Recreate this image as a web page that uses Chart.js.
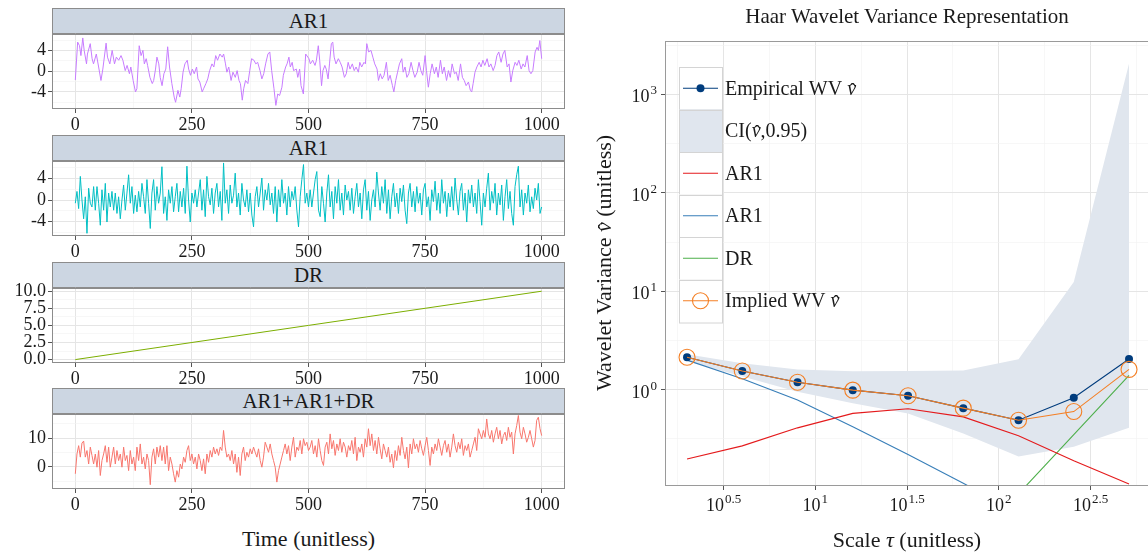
<!DOCTYPE html>
<html><head><meta charset="utf-8">
<script src="https://cdn.jsdelivr.net/npm/chart.js@4.4.1/dist/chart.umd.min.js"></script>
<style>
html,body{margin:0;padding:0;background:#fff;width:1148px;height:552px;overflow:hidden;position:relative;font-family:"Liberation Serif",serif;color:#1a1a1a;}
.strip{position:absolute;left:52px;width:513px;height:26px;box-sizing:border-box;background:#ccd6e2;border:1px solid #8c8c8c;text-align:center;font-size:21px;line-height:24px;}
.cv{position:absolute;}
.txt{position:absolute;white-space:nowrap;text-align:center;}
.nu{position:relative;font-style:italic;display:inline-block;}
.hat{position:absolute;left:1px;right:0;top:0.16em;text-align:center;font-style:normal;line-height:1;}
</style></head><body>

<div class="strip" style="top:8px">AR1</div>
<div class="strip" style="top:135px">AR1</div>
<div class="strip" style="top:262px">DR</div>
<div class="strip" style="top:388px">AR1+AR1+DR</div>

<canvas class="cv" id="p1" width="585" height="118" style="left:0;top:21px"></canvas>
<canvas class="cv" id="p2" width="585" height="118" style="left:0;top:148px"></canvas>
<canvas class="cv" id="p3" width="585" height="118" style="left:0;top:275px"></canvas>
<canvas class="cv" id="p4" width="585" height="118" style="left:0;top:401px"></canvas>
<div class="txt" style="left:52px;width:513px;top:526px;font-size:22px;">Time (unitless)</div>

<canvas class="cv" id="wv" width="580" height="552" style="left:590px;top:0"></canvas>
<div class="txt" style="left:667px;width:480px;top:4px;font-size:21px;">Haar Wavelet Variance Representation</div>
<div class="txt" style="left:667px;width:480px;top:527px;font-size:22px;">Scale <i>τ</i> (unitless)</div>
<div class="txt" style="left:444px;width:320px;top:250px;height:26px;line-height:26px;font-size:22px;transform:rotate(-90deg);transform-origin:160px 13px;">Wavelet Variance <span class="nu">ν<span class="hat">ˆ</span></span> (unitless)</div>

<script>
// ---------------- DATA ----------------
const timeMajorTicks = [0, 250, 500, 750, 1000];
const timeMinorTicks = [125, 375, 625, 875];
const timeRange = [-50, 1050];

// AR1 (purple) read at irregular times
const ar1aTime = [0,5,9,12,16,19,24,26,32,36,39,45,50,55,59,66,69,74,79,84,88,93,98,102,107,111,116,119,124,129,132,137,141,145,148,152,155,160,165,168,172,175,179,182,186,190,194,198,202,207,212,215,220,224,227,231,235,240,243,247,251,255,260,263,267,272,275,280,284,288,293,297,301,305,310,315,318,322,325,329,334,338,343,347,351,354,358,361,365,370,374,378,383,387,391,396,400,404,408,413,417,421,426,430,434,438,443,446,451,454,458,461,465,468,474,477,481,484,489,
494,501,504,509,514,517,521,524,528,531,535,538,542,545,549,552,555,559,564,568,572,577,581,585,589,594,598,602,607,610,614,619,622,625,629,634,638,642,647,650,654,658,662,667,671,675,680,683,687,691,695,700,703,707,711,715,720,724,728,733,737,741,745,750,753,757,761,765,770,774,778,783,787,791,796,800,804,808,813,817,821,826,830,834,838,843,847,850,853,857,861,866,870,874,878,883,887,891,896,900,904,908,913,917,921,926,930,934,938,943,947,951,956,960,964,969,973,977,981,986,990,993,996,1000];
const ar1aValue = [-1.7,5.6,4.9,3.0,6.4,4.0,1.4,3.3,5.3,2.4,1.4,3.3,0.8,-1.8,0.4,5.4,2.7,1.4,4.0,1.4,2.7,2.1,3.0,2.1,0.1,1.1,-0.5,0.8,-1.8,-4.0,-3.4,4.9,3.0,4.0,1.4,2.4,1.1,-1.2,-2.4,-1.8,0.4,2.7,1.4,-1.2,-2.8,-0.5,0.4,4.7,0.8,-2.4,-5.0,-6.0,-3.7,-5.0,-3.4,-0.2,1.4,2.1,0.4,-0.8,0.4,-0.5,0.8,-1.5,-2.1,-4.0,-3.4,-2.4,-1.5,0.1,1.4,0.8,3.0,2.1,3.3,2.7,3.3,1.4,-0.2,0.8,-1.8,-0.2,-1.2,0.1,-1.8,-2.4,-5.6,-3.4,-1.8,-2.4,0.1,2.4,2.1,1.4,1.7,0.1,-1.5,-0.5,1.4,3.3,3.7,0.1,-3.4,-6.6,-4.4,-4.7,-3.1,-0.8,0.8,1.4,2.7,0.8,1.7,0.1,0.4,-1.2,0.4,-2.8,-4.4,
3.3,2.4,1.4,2.1,1.1,2.1,4.9,2.1,-2.8,0.1,1.1,0.4,-1.5,1.4,5.3,5.6,2.7,1.4,2.4,1.7,0.8,-1.2,-0.5,1.7,0.4,1.4,0.1,0.8,-0.2,1.7,0.8,1.7,1.4,5.3,3.7,4.0,2.7,1.4,0.4,-1.8,-0.5,-1.5,-0.8,1.7,-1.8,-0.8,-2.8,-4.0,-1.8,-0.2,1.4,2.4,-0.2,0.8,-1.2,-0.5,1.7,0.1,-1.2,-0.2,1.7,0.1,-0.8,3.0,0.1,-3.1,-0.5,1.4,-0.5,0.8,-1.2,2.1,-0.5,0.8,-1.8,0.1,-1.2,1.4,-0.5,-0.2,-1.8,1.4,-1.2,-1.8,-2.8,-2.1,-3.7,-4.0,-2.4,-0.2,0.8,1.7,0.8,2.1,1.1,2.4,0.8,1.4,0.1,1.1,3.0,3.7,1.7,3.3,4.0,0.8,1.4,-2.1,0.1,1.7,1.1,2.1,0.4,1.4,0.8,3.0,0.1,-0.5,0.1,3.7,4.6,4.0,5.9,2.4];

// AR1 (cyan) read at evenly spaced times from 0 to 1000
const ar1bValue = [-0.6,1.6,-1.6,4.4,0.0,-3.5,0.6,-6.2,2.2,-0.6,-1.3,2.5,-1.9,2.5,-0.6,-4.7,1.9,-1.9,3.1,-4.1,1.3,-1.3,1.6,-1.9,1.3,-2.5,0.6,-3.5,0.0,2.8,-1.9,1.3,4.7,-0.6,2.5,-2.5,0.9,-2.2,1.6,-1.3,3.1,0.6,-2.5,3.8,-0.6,-5.3,1.3,3.8,-1.9,2.5,-0.6,1.3,6.2,-2.5,0.6,-3.8,1.9,-0.6,2.5,-2.2,0.6,3.1,-2.2,1.6,-1.3,2.2,-2.5,6.3,0.0,-4.1,1.3,-0.6,1.9,-1.3,1.3,3.8,-1.9,1.9,-3.1,4.4,0.6,-0.9,2.2,-2.5,1.3,3.1,-1.3,1.6,-3.8,6.9,-0.6,1.9,-2.5,2.8,-0.6,0.9,5.0,-1.3,1.3,-2.8,3.1,0.0,-1.3,1.9,-2.2,1.3,-2.8,-5.0,0.6,2.5,-1.3,1.3,4.1,-1.9,1.9,0.0,3.1,-0.9,1.3,-2.5,2.5,-4.1,1.9,-1.3,3.8,-0.6,1.3,-2.8,2.5,-1.3,1.6,0.0,2.5,-1.9,-5.0,0.6,3.8,6.6,-0.6,1.3,-1.3,
1.9,-1.3,1.3,3.8,5.3,-1.9,-3.1,2.5,-0.6,-4.1,1.3,4.7,-1.3,1.6,-3.5,2.5,-0.6,3.8,-1.9,1.3,-2.8,2.8,0.0,1.6,-1.9,2.2,-2.5,0.6,3.1,-1.3,1.3,-3.5,1.9,3.8,-1.9,1.6,-3.8,0.0,1.9,-1.3,5.2,1.3,-1.9,2.5,-0.6,3.8,-2.5,1.9,-3.5,0.6,3.1,-1.3,1.3,-2.5,2.2,-0.3,2.8,-1.9,-4.4,1.3,3.1,-1.3,1.6,-2.2,2.5,-0.6,1.3,-2.8,1.9,3.1,-1.3,0.6,-3.8,1.9,-0.3,3.5,-1.9,1.3,-2.5,3.8,-0.6,1.6,-3.1,1.3,-1.3,2.5,-1.9,4.1,0.0,-2.8,1.6,3.1,-1.9,1.3,-4.1,1.9,-0.6,2.8,-1.3,1.3,-2.5,3.8,-0.3,-4.7,1.3,-1.3,2.2,5.0,-1.9,1.6,-0.6,3.1,-2.8,1.3,-0.9,2.8,-3.8,0.6,3.8,-1.6,1.6,-2.5,-4.7,2.5,4.7,6.3,-1.3,1.9,-2.8,1.3,-0.6,2.8,-2.2,0.6,-1.6,2.2,0.0,3.1,-2.5,-1.3];

// DR (straight drift)
const drTime = [0, 250, 500, 750, 1000];
const drValue = [0, 2.5, 5, 7.5, 10];

// AR1+AR1+DR (salmon) read at evenly spaced times from 0 to 1000
const sumValue = [-2.4,4.5,7.4,3.4,8.3,9.0,3.4,5.7,1.0,6.9,4.0,1.0,4.5,-0.1,5.7,-3.0,2.2,4.5,7.4,1.6,6.9,-0.1,3.4,6.9,1.0,5.7,2.2,4.5,-0.1,6.9,2.2,4.0,-1.3,5.7,1.0,3.4,-1.3,6.9,2.2,8.0,1.0,3.4,-0.7,4.5,2.2,-6.2,3.4,6.3,1.0,6.9,3.4,7.4,2.2,6.9,1.0,7.4,-1.3,3.4,1.0,-2.4,-5.3,-1.3,-3.6,1.0,-0.7,3.4,1.6,5.7,7.4,2.2,4.5,1.0,3.4,-0.7,4.5,2.2,-1.3,2.8,-2.4,4.5,1.6,5.7,3.4,6.9,4.5,6.3,4.0,6.9,5.7,12.7,6.9,3.4,4.5,2.2,5.7,1.0,4.5,-1.9,3.4,-3.0,4.5,6.9,2.2,5.1,3.4,6.3,4.5,6.9,5.1,3.4,6.3,2.2,-0.1,3.4,8.6,6.9,5.1,8.0,4.5,2.2,-0.1,-5.3,-1.3,1.0,3.4,5.7,8.0,4.5,7.4,2.2,6.9,10.3,3.4,6.9,5.7,9.2,4.5,9.8,7.4,8.6,5.7,
6.9,9.2,4.5,7.4,3.4,9.8,5.7,2.2,0.5,6.9,8.6,4.5,11.5,6.3,9.2,4.0,8.0,5.7,9.8,5.1,8.6,6.9,3.4,7.4,5.7,9.2,4.5,10.3,2.2,6.9,5.1,8.0,3.4,9.8,6.9,13.3,7.4,11.5,5.7,9.2,4.5,10.3,6.3,2.8,8.0,5.7,3.4,6.9,1.6,4.5,-0.3,5.7,2.2,7.4,4.0,10.3,5.7,2.8,6.9,-0.3,8.0,4.5,9.8,6.3,8.0,5.1,9.2,6.3,4.0,7.4,10.3,5.7,0.5,6.9,4.5,8.0,5.7,9.8,6.9,4.0,7.4,9.2,5.1,8.0,3.4,6.9,11.5,7.4,5.1,8.6,6.3,9.8,4.0,7.4,5.7,8.0,3.4,5.7,8.0,10.3,5.7,13.3,11.5,9.8,12.7,10.3,16.7,11.5,9.8,12.7,8.6,11.5,13.8,9.8,12.7,8.0,10.9,12.1,9.2,13.8,10.3,12.1,4.5,11.5,14.4,17.9,12.1,9.8,13.8,11.5,8.6,10.3,12.7,9.8,6.9,9.2,16.2,17.3,13.3,10.9];

// panel y axes
const ar1aRange = [-7.3, 7.2], ar1aMajor = [-4, 0, 4], ar1aMinor = [-6, -2, 2, 6];
const ar1bRange = [-6.7, 7.3], ar1bMajor = [-4, 0, 4], ar1bMinor = [-6, -2, 2, 6];
const drRange = [-0.5, 10.5], drMajor = [0, 2.5, 5, 7.5, 10], drMinor = [1.25, 3.75, 6.25, 8.75];
const sumRange = [-7.7, 18.5], sumMajor = [0, 10], sumMinor = [-5, 5, 15];

// wavelet variance (right)
const tau = [2, 4, 8, 16, 32, 64, 128, 256, 512];
const empiricalWV = [2.14, 1.55, 1.19, 0.99, 0.87, 0.65, 0.49, 0.83, 2.05];
const impliedWV   = [2.14, 1.55, 1.19, 0.99, 0.87, 0.65, 0.49, 0.60, 1.61];
const ciUpper = [2.29, 1.86, 1.61, 1.54, 1.55, 1.57, 2.04, 12.4, 2050];
const ciLower = [1.96, 1.36, 0.955, 0.73, 0.575, 0.36, 0.21, 0.263, 0.41];
const ar1RedWV  = [0.198, 0.269, 0.41, 0.575, 0.64, 0.53, 0.34, 0.19, 0.11];
const ar1BlueWV = [2.0, 1.29, 0.785, 0.42, 0.22, 0.112, 0.057, 0.029, 0.0145];
const drWV = [0.000021, 0.000085, 0.00034, 0.00137, 0.0055, 0.0219, 0.0875, 0.35, 1.40];
const tauRangeExp = [0.181, 2.829];
const wvRangeExp = [-0.978, 3.543];
const tauMajorExp = [0.5, 1, 1.5, 2, 2.5];
const tauMinorExp = [0.25, 0.75, 1.25, 1.75, 2.25, 2.75];
const wvMajorExp = [0, 1, 2, 3];
const wvMinorExp = [-0.5, 0.5, 1.5, 2.5, 3.5];
// legend labels: [text before ν̂, has ν̂, text after]
const legendLabels = [['Empirical WV ', true, ''], ['CI(', true, ',0.95)'], ['AR1', false, ''], ['AR1', false, ''], ['DR', false, ''], ['Implied WV ', true, '']];

// ---------------- STYLE ----------------
const FONT = '"Liberation Serif", serif';
Chart.defaults.font.family = FONT;
Chart.defaults.color = '#1a1a1a';
const C = { purple:'#C77CFF', cyan:'#00BFC4', green:'#7CAE00', salmon:'#F8766D',
  navy:'#003C7D', orange:'#F47F24', red:'#E41A1C', blue:'#377EB8', dgreen:'#4DAF4A', ci:'#E0E6EE' };

const framePlugin = { id:'frame', afterDatasetsDraw(chart, args, opts) {
  const a = chart.chartArea, c = chart.ctx; c.save();
  c.strokeStyle = opts.color || '#8c8c8c'; c.lineWidth = 1;
  c.strokeRect(Math.round(a.left)+0.5, Math.round(a.top)+0.5, Math.round(a.right-a.left)-1, Math.round(a.bottom-a.top)-1);
  c.restore(); } };

function gridOpts(isMajor) {
  return {
    color: c => (c.tick && isMajor(c.tick.value)) ? '#e5e5e5' : '#f2f2f2',
    lineWidth: c => (c.tick && isMajor(c.tick.value)) ? 1 : 0.6,
    tickColor: c => (c.tick && isMajor(c.tick.value)) ? '#555' : 'rgba(0,0,0,0)',
    tickLength: 4, drawTicks: true
  };
}

function panel(id, xs, ys, color, yr, yMajor, yMinor, fmt) {
  const yAll = yMajor.concat(yMinor).sort((a,b)=>a-b);
  const xAll = timeMajorTicks.concat(timeMinorTicks).sort((a,b)=>a-b);
  const n = Math.min(xs.length, ys.length);
  const pts = []; for (let i = 0; i < n; i++) pts.push({x: xs[i], y: ys[i]});
  new Chart(document.getElementById(id), {
    type: 'line',
    data: { datasets: [{ data: pts, borderColor: color, borderWidth: 1, pointRadius: 0, tension: 0, fill: false }] },
    options: {
      responsive: false, animation: false, events: [],
      layout: { padding: { top: 12, right: 20, left: 0, bottom: 0 } },
      plugins: { legend: {display:false}, tooltip: {enabled:false}, frame: {color:'#8c8c8c'} },
      scales: {
        x: { type:'linear', min: timeRange[0], max: timeRange[1],
          afterBuildTicks: s => { s.ticks = xAll.map(v => ({value:v})); },
          ticks: { autoSkip:false, maxRotation:0, padding:1, font:{size:18}, color:'#1a1a1a',
            callback: v => timeMajorTicks.includes(v) ? String(v) : '' },
          grid: gridOpts(v => timeMajorTicks.includes(v)), border:{display:false},
          afterFit: s => { s.height = 30; } },
        y: { type:'linear', min: yr[0], max: yr[1],
          afterBuildTicks: s => { s.ticks = yAll.map(v => ({value:v})); },
          ticks: { autoSkip:false, padding:2, font:{size:18}, color:'#1a1a1a',
            callback: v => yMajor.includes(v) ? fmt(v) : '' },
          grid: gridOpts(v => yMajor.includes(v)), border:{display:false},
          afterFit: s => { s.width = 52; } }
      }
    },
    plugins: [framePlugin]
  });
}
const evenTimes = arr => arr.map((_, i) => timeRange[0] + 50 + i * 1000 / (arr.length - 1));

panel('p1', ar1aTime, ar1aValue, C.purple, ar1aRange, ar1aMajor, ar1aMinor, v => String(v));
panel('p2', evenTimes(ar1bValue), ar1bValue, C.cyan, ar1bRange, ar1bMajor, ar1bMinor, v => String(v));
panel('p3', drTime, drValue, C.green, drRange, drMajor, drMinor, v => v.toFixed(1));
panel('p4', evenTimes(sumValue), sumValue, C.salmon, sumRange, sumMajor, sumMinor, v => String(v));

// ---------------- RIGHT: wavelet variance ----------------
const near = (v, list) => { const e = Math.log10(v); return list.some(m => Math.abs(m - e) < 1e-6); };
function drawPow(ctx, x, y, exp, align) {
  const base = '10', sup = String(exp);
  ctx.font = '18px ' + FONT; const wb = ctx.measureText(base).width;
  ctx.font = '13px ' + FONT; const ws = ctx.measureText(sup).width;
  const total = wb + 1 + ws;
  const left = align === 'center' ? x - total / 2 : x - total;
  ctx.textAlign = 'left'; ctx.textBaseline = 'alphabetic';
  ctx.font = '18px ' + FONT; ctx.fillText(base, left, y);
  ctx.font = '13px ' + FONT; ctx.fillText(sup, left + wb + 1, y - 8);
}
const powLabelPlugin = { id:'powLabels', afterDraw(chart) {
  const ctx = chart.ctx, xs = chart.scales.x, ys = chart.scales.y, a = chart.chartArea;
  ctx.save(); ctx.fillStyle = '#1a1a1a';
  tauMajorExp.forEach(e => drawPow(ctx, xs.getPixelForValue(Math.pow(10, e)), a.bottom + 25, e, 'center'));
  wvMajorExp.forEach(e => drawPow(ctx, a.left - 8, ys.getPixelForValue(Math.pow(10, e)) + 8, e, 'right'));
  ctx.restore(); } };

function drawNuHat(ctx, x, y, size) {
  ctx.font = 'italic ' + size + 'px ' + FONT;
  const w = ctx.measureText('ν').width;
  ctx.fillText('ν', x, y);
  ctx.font = size + 'px ' + FONT;
  const hw = ctx.measureText('ˆ').width;
  ctx.fillText('ˆ', x + w / 2 - hw / 2 + 1, y + size * 0.16);
  return w;
}
const legendPlugin = { id:'wvLegend', afterDatasetsDraw(chart) {
  const ctx = chart.ctx; const x0 = 89, y0 = 67, w = 43, h = 42.5, fs = 20;
  ctx.save();
  ctx.fillStyle = '#ffffff'; ctx.fillRect(x0, y0, w, h * 6);
  ctx.textBaseline = 'middle'; ctx.textAlign = 'left';
  for (let i = 0; i < 6; i++) {
    const top = y0 + i * h, cy = top + h / 2;
    ctx.fillStyle = i === 1 ? C.ci : '#ffffff';
    ctx.fillRect(x0, top, w, h);
    ctx.strokeStyle = '#d4d4d4'; ctx.lineWidth = 1;
    ctx.strokeRect(x0 + 0.5, Math.round(top) + 0.5, w, h);
    const col = [C.navy, null, C.red, C.blue, C.dgreen, C.orange][i];
    if (col) {
      ctx.strokeStyle = col; ctx.lineWidth = 1.1;
      ctx.beginPath(); ctx.moveTo(x0 + 4, cy); ctx.lineTo(x0 + w - 4, cy); ctx.stroke();
    }
    if (i === 0) { ctx.fillStyle = C.navy; ctx.beginPath(); ctx.arc(x0 + w/2, cy, 4, 0, Math.PI*2); ctx.fill(); }
    if (i === 5) { ctx.strokeStyle = C.orange; ctx.beginPath(); ctx.arc(x0 + w/2, cy, 8, 0, Math.PI*2); ctx.stroke(); }
    ctx.fillStyle = '#1a1a1a';
    const [pre, nu, post] = legendLabels[i];
    let tx = x0 + w + 3, ty = cy + 1;
    ctx.font = fs + 'px ' + FONT; ctx.fillText(pre, tx, ty); tx += ctx.measureText(pre).width;
    if (nu) { tx += drawNuHat(ctx, tx, ty, fs); }
    if (post) { ctx.font = fs + 'px ' + FONT; ctx.fillText(post, tx, ty); }
  }
  ctx.restore(); } };

const xy = (xs, ys) => xs.map((x, i) => ({x, y: ys[i]}));
new Chart(document.getElementById('wv'), {
  type: 'line',
  data: { datasets: [
    { label: 'CI upper', data: xy(tau, ciUpper), fill: '+1', backgroundColor: C.ci, borderWidth: 0, pointRadius: 0, order: 10 },
    { label: 'CI lower', data: xy(tau, ciLower), fill: false, borderWidth: 0, pointRadius: 0, order: 11 },
    { label: 'AR1', data: xy(tau, ar1RedWV), borderColor: C.red, borderWidth: 1.1, pointRadius: 0, order: 5 },
    { label: 'AR1', data: xy(tau, ar1BlueWV), borderColor: C.blue, borderWidth: 1.1, pointRadius: 0, order: 5 },
    { label: 'DR', data: xy(tau, drWV), borderColor: C.dgreen, borderWidth: 1.1, pointRadius: 0, order: 5 },
    { label: 'Empirical WV', data: xy(tau, empiricalWV), borderColor: C.navy, borderWidth: 1.1, pointRadius: 4,
      pointBackgroundColor: C.navy, pointBorderColor: C.navy, pointBorderWidth: 0, order: 2 },
    { label: 'Implied WV', data: xy(tau, impliedWV), borderColor: C.orange, borderWidth: 1.1, pointRadius: 8,
      pointBackgroundColor: 'rgba(0,0,0,0)', pointBorderColor: C.orange, pointBorderWidth: 1.1, order: 1 }
  ]},
  options: {
    responsive: false, animation: false, events: [],
    layout: { padding: { top: 41, right: 19, left: 0, bottom: 66 } },
    plugins: { legend: {display:false}, tooltip: {enabled:false}, frame: {color:'#9a9a9a'} },
    elements: { line: { tension: 0 } },
    scales: {
      x: { type:'logarithmic', min: Math.pow(10, tauRangeExp[0]), max: Math.pow(10, tauRangeExp[1]),
        afterBuildTicks: s => { s.ticks = tauMajorExp.concat(tauMinorExp).map(e => ({value: Math.pow(10, e)})); },
        ticks: { display: false }, grid: gridOpts(v => near(v, tauMajorExp)), border:{display:false},
        afterFit: s => { s.height = 0; } },
      y: { type:'logarithmic', min: Math.pow(10, wvRangeExp[0]), max: Math.pow(10, wvRangeExp[1]),
        afterBuildTicks: s => { s.ticks = wvMajorExp.concat(wvMinorExp).map(e => ({value: Math.pow(10, e)})); },
        ticks: { display: false }, grid: gridOpts(v => near(v, wvMajorExp)), border:{display:false},
        afterFit: s => { s.width = 75; } }
    }
  },
  plugins: [framePlugin, powLabelPlugin, legendPlugin]
});
</script>
</body></html>
